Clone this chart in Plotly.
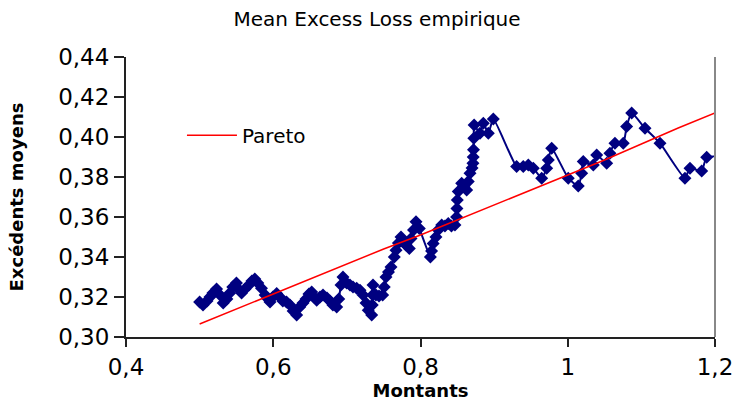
import plotly.graph_objects as go

# Empirical mean excess (blue diamonds)
mel_x = [0.5000, 0.5046, 0.5100, 0.5140, 0.5180, 0.5230, 0.5277, 0.5320, 0.5370, 0.5410,
         0.5450, 0.5500, 0.5530, 0.5570, 0.5616, 0.5670, 0.5710, 0.5750, 0.5790, 0.5840,
         0.5890, 0.5930, 0.5956, 0.5996, 0.6047, 0.6090, 0.6130, 0.6180, 0.6227, 0.6270,
         0.6318, 0.6360, 0.6404, 0.6445, 0.6485, 0.6522, 0.6553, 0.6590, 0.6635, 0.6676,
         0.6730, 0.6770, 0.6810, 0.6862, 0.6890, 0.6920, 0.6947, 0.6997, 0.7042, 0.7083,
         0.7133, 0.7178, 0.7220, 0.7260, 0.7290, 0.7337, 0.7345, 0.7350, 0.7355, 0.7395,
         0.7436, 0.7486, 0.7508, 0.7531, 0.7565, 0.7599, 0.7644, 0.7667, 0.7700, 0.7735,
         0.7758, 0.7803, 0.7848, 0.7871, 0.7905, 0.7939, 0.7984, 0.8134, 0.8150, 0.8172,
         0.8210, 0.8240, 0.8288, 0.8332, 0.8377, 0.8420, 0.8468, 0.8490, 0.8495, 0.8500,
         0.8513, 0.8559, 0.8590, 0.8627, 0.8649, 0.8672, 0.8700, 0.8712, 0.8716, 0.8720,
         0.8724, 0.8728, 0.8808, 0.8853, 0.8921, 0.8989, 0.9306, 0.9396, 0.9464, 0.9532,
         0.9646, 0.9714, 0.9736, 0.9782, 1.0007, 1.0143, 1.0189, 1.0211, 1.0347, 1.0393,
         1.0529, 1.0573, 1.0641, 1.0754, 1.0800, 1.0868, 1.1049, 1.1253, 1.1592, 1.1660,
         1.1819, 1.1887, 1.2200]
mel_y = [0.3175, 0.3160, 0.3180, 0.3200, 0.3220, 0.3240, 0.3210, 0.3170, 0.3190, 0.3220,
         0.3250, 0.3270, 0.3240, 0.3220, 0.3240, 0.3260, 0.3280, 0.3290, 0.3270, 0.3244,
         0.3210, 0.3190, 0.3175, 0.3200, 0.3217, 0.3200, 0.3180, 0.3175, 0.3160, 0.3130,
         0.3110, 0.3150, 0.3170, 0.3190, 0.3215, 0.3225, 0.3200, 0.3184, 0.3200, 0.3210,
         0.3195, 0.3180, 0.3160, 0.3150, 0.3190, 0.3260, 0.3300, 0.3270, 0.3260, 0.3250,
         0.3244, 0.3234, 0.3210, 0.3170, 0.3134, 0.3110, 0.3160, 0.3210, 0.3260, 0.3210,
         0.3205, 0.3210, 0.3250, 0.3300, 0.3325, 0.3350, 0.3400, 0.3434, 0.3470, 0.3500,
         0.3476, 0.3460, 0.3443, 0.3493, 0.3535, 0.3576, 0.3543, 0.3400, 0.3430, 0.3468,
         0.3500, 0.3535, 0.3560, 0.3555, 0.3568, 0.3555, 0.3560, 0.3600, 0.3643, 0.3685,
         0.3727, 0.3769, 0.3755, 0.3735, 0.3777, 0.3819, 0.3845, 0.3869, 0.3900, 0.3936,
         0.3994, 0.4060, 0.4019, 0.4069, 0.4019, 0.4090, 0.3852, 0.3852, 0.3860, 0.3844,
         0.3794, 0.3844, 0.3885, 0.3944, 0.3794, 0.3755, 0.3819, 0.3877, 0.3860, 0.3910,
         0.3869, 0.3919, 0.3969, 0.3969, 0.4052, 0.4120, 0.4044, 0.3969, 0.3794, 0.3844,
         0.3830, 0.3899, 0.3899]

# Pareto fitted mean excess (red line)
par_x = [0.50, 0.55, 0.60, 0.65, 0.70, 0.75, 0.80, 0.85, 0.90, 0.95, 1.00, 1.05, 1.10, 1.15, 1.20]
par_y = [0.3065, 0.3140, 0.3215, 0.3290, 0.3365, 0.3440, 0.3510, 0.3585, 0.3660, 0.3735,
         0.3810, 0.3885, 0.3965, 0.4045, 0.4120]

x_ticks = [0.4, 0.6, 0.8, 1.0, 1.2]
y_ticks = [0.30, 0.32, 0.34, 0.36, 0.38, 0.40, 0.42, 0.44]

fig = go.Figure()
fig.add_trace(go.Scatter(
    x=mel_x, y=mel_y, mode="lines+markers", showlegend=False,
    line=dict(color="#000080", width=2, shape="spline", smoothing=0.5),
    marker=dict(symbol="diamond", size=10, color="#000080"),
))
fig.add_trace(go.Scatter(
    x=par_x, y=par_y, mode="lines", name="Pareto",
    line=dict(color="#FF0000", width=1.5),
))

ff = "DejaVu Sans, Verdana, sans-serif"
fig.update_layout(
    width=735, height=405,
    margin=dict(l=126, r=20, t=57, b=68),
    paper_bgcolor="white", plot_bgcolor="white",
    separators=", ",
    font=dict(family=ff, color="black"),
    title=dict(text="Mean Excess Loss empirique", x=377/735, xanchor="center", xref="container",
               y=1 - 19/405, yanchor="middle", yref="container",
               font=dict(size=20, family=ff, color="black")),
    legend=dict(x=0.095, y=0.79, xanchor="left", yanchor="top", bgcolor="rgba(0,0,0,0)",
                font=dict(size=20, family=ff), itemwidth=50),
    xaxis=dict(range=[0.4, 1.2], tickvals=x_ticks, showgrid=False, zeroline=False,
               automargin=False,
               showline=True, linecolor="#222", linewidth=2,
               ticks="outside", ticklen=8, tickwidth=1.5, tickcolor="#222",
               tickfont=dict(size=23, family=ff),
               title=dict(text="<b>Montants</b>", font=dict(size=18, family=ff), standoff=5)),
    yaxis=dict(range=[0.30, 0.44], tickvals=y_ticks, tickformat=".2f", showgrid=False, zeroline=False,
               automargin=False,
               showline=True, linecolor="#222", linewidth=2,
               ticks="outside", ticklen=10, tickwidth=1.5, tickcolor="#222",
               tickfont=dict(size=23, family=ff),
               title=dict(text="<b>Excédents moyens</b>", font=dict(size=18, family=ff), standoff=30)),
    shapes=[dict(type="line", xref="paper", yref="paper", x0=1, x1=1, y0=0, y1=1,
                 line=dict(color="#888888", width=2))],
)

fig.write_html("out.html")
